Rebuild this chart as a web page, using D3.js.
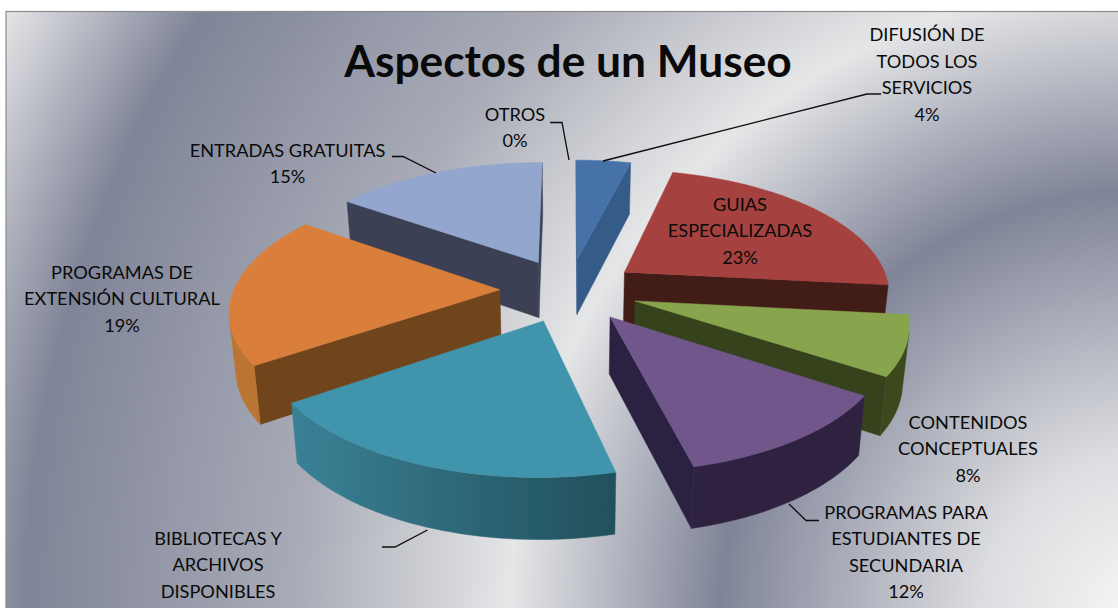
<!DOCTYPE html>
<html>
<head>
<meta charset="utf-8">
<script src="https://d3js.org/d3.v7.min.js"></script>
<style>
html,body{margin:0;padding:0;background:#fff;}
svg{display:block;}
text{font-family:Lato,"Open Sans",sans-serif;fill:#0a0a0a;}
</style>
</head>
<body>
<svg id="chart" width="1118" height="608"></svg>
<script>
// ---- data ----
const title = "Aspectos de un Museo";
const categories = ["DIFUSIÓN DE TODOS LOS SERVICIOS","GUIAS ESPECIALIZADAS","CONTENIDOS CONCEPTUALES","PROGRAMAS PARA ESTUDIANTES DE SECUNDARIA","BIBLIOTECAS Y ARCHIVOS DISPONIBLES","PROGRAMAS DE EXTENSIÓN CULTURAL","ENTRADAS GRATUITAS","OTROS"];
const values = [3.9,22.8,7.6,11.9,19.2,19.4,15.2,0];
const labelLines = [
  ["DIFUSIÓN DE","TODOS LOS","SERVICIOS","4%"],
  ["GUIAS","ESPECIALIZADAS","23%"],
  ["CONTENIDOS","CONCEPTUALES","8%"],
  ["PROGRAMAS PARA","ESTUDIANTES DE","SECUNDARIA","12%"],
  ["BIBLIOTECAS Y","ARCHIVOS","DISPONIBLES"],
  ["PROGRAMAS DE","EXTENSIÓN CULTURAL","19%"],
  ["ENTRADAS GRATUITAS","15%"],
  ["OTROS","0%"]
];
// ---- style ----
const topColors  = ["#4672a8","#a5423f","#88a44e","#71578c","#4095ad","#d97f3b","#93a6ce","#b0b0b0"];
const cutColors  = ["#365c88","#431a18","#36421c","#2c2340","#2a5f6e","#70441e","#3a4154","#777"];
const wallA      = ["#365c88","#431a18","#3a4a1c","#2d2340","#22505c","#ba7532","#3a4154","#777"];
const wallB      = ["#365c88","#431a18","#3a4a1c","#2d2340","#3a8196","#ba7532","#3a4154","#777"];
const labelAnchors = [[927,41],[740,210.7],[968,428.7],[906,518.7],[218,544.7],[122,278.7],[287.5,156.7],[515,120.7]];
const leaders = [
  [[881,94],[867,94],[603,161]],
  null,null,
  [[819,520.5],[806,520.5],[789,504]],
  [[382,547],[395,547],[427.5,530]],
  null,
  [[392,156.5],[403,156.5],[436,173]],
  [[550,122.5],[562,122.5],[569,160]]
];

const svg = d3.select("#chart");
const defs = svg.append("defs");

// background: a single silver path gradient
const bg = defs.append("radialGradient").attr("id","bg")
  .attr("gradientUnits","userSpaceOnUse")
  .attr("cx",1150).attr("cy",620).attr("r",1300);
[[0,"#f8f8f8"],[170,"#dcdde0"],[430,"#7f8498"],[640,"#e5e6e7"],[850,"#a9acb7"],[1125,"#7f8498"],[1300,"#e8e8e9"]]
  .forEach(([r,c])=>bg.append("stop").attr("offset",r/1300).attr("stop-color",c));
svg.append("rect").attr("x",6).attr("y",11.5).attr("width",1130).attr("height",620)
  .attr("fill","url(#bg)").attr("stroke","#8c8c8c").attr("stroke-width",1.2);

// soft filter, source picture is slightly blurred
const soft = defs.append("filter").attr("id","soft");
soft.append("feGaussianBlur").attr("stdDeviation",0.35);

// ---- projection of the exploded 3D pie ----
const cx=569, cy=290, A=266, B=122.7, K=0.15, EXPLODE=0.26, R=1, H=56;
const project = (x,y)=>{ const w=1+K*y; return [cx+A*x/w, cy-B*y/w, w]; };
const bottom = (p)=>[cx+(p[0]-cx)*0.98, p[1]+H/Math.sqrt(p[2])];

const arcs = d3.pie().sort(null).value(d=>d)(values);
const line = d3.line();
const poly = pts => line(pts)+"Z";

const slices = arcs.map((a,i)=>({a,i})).filter(d=>d.a.value>0).map(d=>{
  const mid=(d.a.startAngle+d.a.endAngle)/2;
  const ox=EXPLODE*Math.sin(mid), oy=EXPLODE*Math.cos(mid);
  const at=t=>project(ox+R*Math.sin(t), oy+R*Math.cos(t));
  const n=Math.max(4,Math.round((d.a.endAngle-d.a.startAngle)/(Math.PI/120)));
  const ts=d3.range(n+1).map(j=>d.a.startAngle+(d.a.endAngle-d.a.startAngle)*j/n);
  return {...d, apex:project(ox,oy), ts, rim:ts.map(at)};
}).sort((p,q)=>p.apex[1]-q.apex[1]);

// d3.polygonArea is positive for counter-clockwise on screen (y down)
const pieG = svg.append("g").attr("filter","url(#soft)");
slices.forEach(s=>{
  const g=pieG.append("g");
  const ap=s.apex, apB=bottom(ap), rim=s.rim;
  const first=rim[0], last=rim[rim.length-1];
  const startQ=[ap,first,bottom(first),apB];
  const endQ=[ap,last,bottom(last),apB];
  if(d3.polygonArea(startQ)>0) g.append("path").attr("d",poly(startQ)).attr("fill",cutColors[s.i]).attr("stroke",cutColors[s.i]).attr("stroke-width",0.5);
  if(d3.polygonArea(endQ)<0) g.append("path").attr("d",poly(endQ)).attr("fill",cutColors[s.i]).attr("stroke",cutColors[s.i]).attr("stroke-width",0.5);
  // outer wall: one path over the visible part of the rim, shaded across x
  const vis=[];
  for(let j=0;j<rim.length-1;j++){
    const q=[rim[j],rim[j+1],bottom(rim[j+1]),bottom(rim[j])];
    if(d3.polygonArea(q)>0){ if(!vis.length) vis.push(rim[j]); vis.push(rim[j+1]); }
  }
  if(vis.length>1){
    const gid="wall"+s.i;
    const lg=defs.append("linearGradient").attr("id",gid).attr("gradientUnits","userSpaceOnUse")
      .attr("x1",vis[0][0]).attr("x2",vis[vis.length-1][0]).attr("y1",0).attr("y2",0);
    lg.append("stop").attr("offset",0).attr("stop-color",wallA[s.i]);
    lg.append("stop").attr("offset",1).attr("stop-color",wallB[s.i]);
    g.append("path").attr("d",poly([...vis,...vis.map(bottom).reverse()]))
      .attr("fill","url(#"+gid+")").attr("stroke","url(#"+gid+")").attr("stroke-width",0.5);
  }
  g.append("path").attr("d",poly([ap,...rim])).attr("fill",topColors[s.i]).attr("stroke",topColors[s.i]).attr("stroke-width",0.5);
});

// ---- leader lines ----
const lineG=svg.append("g").attr("filter","url(#soft)");
leaders.forEach(l=>{ if(l) lineG.append("path").attr("d",line(l)).attr("fill","none").attr("stroke","#0a0a0a").attr("stroke-width",1.3); });

// ---- labels ----
const tg=svg.append("g");
labelLines.forEach((ls,i)=>{
  const t=tg.append("text").attr("text-anchor","middle").attr("font-size",18.2);
  ls.forEach((s,j)=>t.append("tspan").attr("x",labelAnchors[i][0]).attr("y",labelAnchors[i][1]+j*26.5).text(s));
});
svg.append("text").attr("x",568).attr("y",77).attr("text-anchor","middle")
  .attr("font-size",44.3).attr("font-weight",700).text(title);
</script>
</body>
</html>
